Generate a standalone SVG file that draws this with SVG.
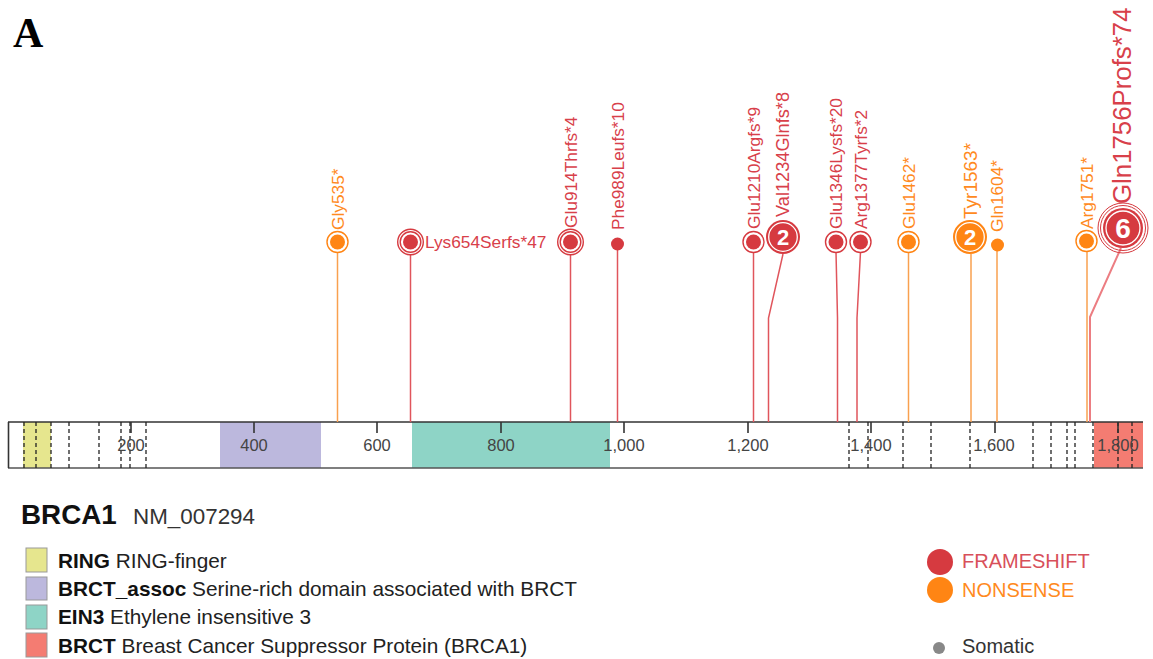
<svg xmlns="http://www.w3.org/2000/svg" width="1153" height="659" viewBox="0 0 1153 659">
<style>
.lbl{font-family:"Liberation Sans",Arial,sans-serif;font-size:17.3px}
.fs{fill:#d8404a}
.ns{fill:#ff8a1e}
.tick{font-family:"Liberation Sans",Arial,sans-serif;font-size:16.5px;fill:#444;text-anchor:middle}
.dash{stroke:#222;stroke-width:1.3;stroke-dasharray:4,3}
.tk{stroke:#333;stroke-width:1.6}
.rs{fill:none;stroke:#e0555c;stroke-width:1.5}
.os{fill:none;stroke:#f9a04f;stroke-width:1.5}
.rf{fill:#d63a40}
.of{fill:#ff8514}
.rr{fill:none;stroke:#d63a40;stroke-width:1.4}
.or{fill:none;stroke:#ff8514;stroke-width:1.4}
.wr{fill:none;stroke:#fff;stroke-width:1.3}
.num{font-family:"Liberation Sans",Arial,sans-serif;font-weight:bold;fill:#fff;text-anchor:middle}
.leg{font-family:"Liberation Sans",Arial,sans-serif;font-size:20.8px;fill:#222}
.sw{stroke:#999;stroke-width:1}
</style>
<rect width="1153" height="659" fill="#fff"/>
<text x="13" y="47" font-family="Liberation Serif,serif" font-weight="bold" font-size="42" fill="#000">A</text>

<g id="axis">
<rect x="23" y="422" width="28" height="46" fill="#e6e68e"/>
<rect x="220" y="422" width="101" height="46" fill="#bcb8dd"/>
<rect x="412" y="422" width="198" height="46" fill="#8ed4c6"/>
<rect x="1094" y="422" width="49" height="46" fill="#f47c72"/>
<line x1="8" y1="422" x2="1143" y2="422" stroke="#333" stroke-width="1.6"/>
<line x1="8" y1="468" x2="1143" y2="468" stroke="#555" stroke-width="1.6"/>
<line x1="8.5" y1="422" x2="8.5" y2="468" stroke="#333" stroke-width="1.6"/>
<g class="dash">
<line x1="24" y1="422" x2="24" y2="468"/><line x1="36" y1="422" x2="36" y2="468"/>
<line x1="51" y1="422" x2="51" y2="468"/><line x1="69" y1="422" x2="69" y2="468"/>
<line x1="99" y1="422" x2="99" y2="468"/><line x1="121" y1="422" x2="121" y2="468"/>
<line x1="130" y1="422" x2="130" y2="468"/><line x1="146" y1="422" x2="146" y2="468"/>
<line x1="849" y1="422" x2="849" y2="468"/><line x1="868" y1="422" x2="868" y2="468"/>
<line x1="903" y1="422" x2="903" y2="468"/><line x1="931" y1="422" x2="931" y2="468"/>
<line x1="970" y1="422" x2="970" y2="468"/><line x1="1033" y1="422" x2="1033" y2="468"/>
<line x1="1051" y1="422" x2="1051" y2="468"/><line x1="1067" y1="422" x2="1067" y2="468"/>
<line x1="1075" y1="422" x2="1075" y2="468"/><line x1="1093" y1="422" x2="1093" y2="468"/>
<line x1="1118" y1="422" x2="1118" y2="468"/><line x1="1132" y1="422" x2="1132" y2="468"/>
</g>
<g class="tk">
<line x1="131" y1="422" x2="131" y2="433"/><line x1="254" y1="422" x2="254" y2="433"/>
<line x1="377" y1="422" x2="377" y2="433"/><line x1="501" y1="422" x2="501" y2="433"/>
<line x1="624" y1="422" x2="624" y2="433"/><line x1="748" y1="422" x2="748" y2="433"/>
<line x1="871" y1="422" x2="871" y2="433"/><line x1="995" y1="422" x2="995" y2="433"/>
<line x1="1118" y1="422" x2="1118" y2="433"/>
</g>
<text class="tick" x="131" y="451">200</text>
<text class="tick" x="254" y="451">400</text>
<text class="tick" x="377" y="451">600</text>
<text class="tick" x="501" y="451">800</text>
<text class="tick" x="624" y="451">1,000</text>
<text class="tick" x="748" y="451">1,200</text>
<text class="tick" x="871" y="451">1,400</text>
<text class="tick" x="994" y="451">1,600</text>
<text class="tick" x="1118" y="451">1,800</text>
</g>

<g id="connectors">
<polyline class="os" points="337.5,252 337.5,422"/>
<polyline class="rs" points="410.5,255 410.5,422"/>
<polyline class="rs" points="570.5,255 570.5,422"/>
<polyline class="rs" points="617.5,250 617.5,422"/>
<polyline class="rs" points="753.5,252 753.5,422"/>
<polyline class="rs" points="783,254 768.5,318 768.5,422"/>
<polyline class="rs" points="836,252 837.5,318 837.5,422"/>
<polyline class="rs" points="860.5,252 857,318 857,422"/>
<polyline class="os" points="908.5,252 908.5,422"/>
<polyline class="os" points="971,254 971,422"/>
<polyline class="os" points="997,251 997,422"/>
<polyline class="os" points="1087,251 1087,422"/>
<polyline class="rs" points="1121,248 1090,317 1090,422" style="stroke:#ec7d82;stroke-width:2"/>
</g>

<g id="m-gly535">
<circle class="of" cx="337.5" cy="242" r="7.5"/><circle class="or" cx="337.5" cy="242" r="10.5"/>
<text class="lbl ns" transform="translate(344,230) rotate(-90)">Gly535*</text>
</g>
<g id="m-lys654">
<circle class="rf" cx="410.5" cy="242" r="7.5"/><circle class="rr" cx="410.5" cy="242" r="10.3"/><circle class="rr" cx="410.5" cy="242" r="12.8"/>
<text class="lbl fs" x="425" y="248">Lys654Serfs*47</text>
</g>
<g id="m-glu914">
<circle class="rf" cx="570.5" cy="242" r="7.5"/><circle class="rr" cx="570.5" cy="242" r="10.3"/><circle class="rr" cx="570.5" cy="242" r="12.8"/>
<text class="lbl fs" transform="translate(577,228) rotate(-90)">Glu914Thrfs*4</text>
</g>
<g id="m-phe989">
<circle class="rf" cx="617.5" cy="244" r="6.5"/>
<text class="lbl fs" transform="translate(624,230) rotate(-90)">Phe989Leufs*10</text>
</g>
<g id="m-glu1210">
<circle class="rf" cx="753.5" cy="242" r="7.5"/><circle class="rr" cx="753.5" cy="242" r="10.5"/>
<text class="lbl fs" transform="translate(760,229) rotate(-90)">Glu1210Argfs*9</text>
</g>
<g id="m-val1234">
<circle class="rf" cx="783" cy="237" r="17"/><circle class="wr" cx="783" cy="237" r="14.3"/>
<text class="num" x="783" y="245" font-size="22">2</text>
<text class="lbl fs" transform="translate(789,217) rotate(-90)" style="font-size:18.2px">Val1234Glnfs*8</text>
</g>
<g id="m-glu1346">
<circle class="rf" cx="836" cy="242" r="7.5"/><circle class="rr" cx="836" cy="242" r="10.5"/>
<text class="lbl fs" transform="translate(842,229) rotate(-90)">Glu1346Lysfs*20</text>
</g>
<g id="m-arg1377">
<circle class="rf" cx="860.5" cy="242" r="7.5"/><circle class="rr" cx="860.5" cy="242" r="10.5"/>
<text class="lbl fs" transform="translate(867,229) rotate(-90)">Arg1377Tyrfs*2</text>
</g>
<g id="m-glu1462">
<circle class="of" cx="908.5" cy="242" r="7.5"/><circle class="or" cx="908.5" cy="242" r="10.5"/>
<text class="lbl ns" transform="translate(915,229) rotate(-90)">Glu1462*</text>
</g>
<g id="m-tyr1563">
<circle class="of" cx="970" cy="237" r="17"/><circle class="wr" cx="970" cy="237" r="14.3"/>
<text class="num" x="970" y="245" font-size="22">2</text>
<text class="lbl ns" transform="translate(977,219) rotate(-90)" style="font-size:19px">Tyr1563*</text>
</g>
<g id="m-gln1604">
<circle class="of" cx="997.5" cy="245" r="6.5"/>
<text class="lbl ns" transform="translate(1003,232) rotate(-90)">Gln1604*</text>
</g>
<g id="m-arg1751">
<circle class="of" cx="1086.5" cy="241" r="7.5"/><circle class="or" cx="1086.5" cy="241" r="10.5"/>
<text class="lbl ns" transform="translate(1093,229) rotate(-90)">Arg1751*</text>
</g>
<g id="m-gln1756">
<circle class="rr" cx="1123" cy="228" r="25" style="stroke-width:1"/><circle class="rr" cx="1123" cy="228" r="22.5" style="stroke-width:1"/>
<circle class="rf" cx="1123" cy="228" r="20"/><circle class="wr" cx="1123" cy="228" r="17"/>
<text class="num" x="1123" y="238" font-size="28">6</text>
<text class="lbl fs" transform="translate(1131,204) rotate(-90)" style="font-size:25.8px">Gln1756Profs*74</text>
</g>

<g id="legend-gene">
<text x="21" y="524" font-family="Liberation Sans,Arial,sans-serif" font-weight="bold" font-size="27.8" fill="#111">BRCA1</text>
<text x="133" y="524" font-family="Liberation Sans,Arial,sans-serif" font-size="22.4" fill="#333">NM_007294</text>
</g>
<g id="legend-domains">
<rect class="sw" x="26" y="548" width="21" height="24" fill="#e6e68e"/>
<rect class="sw" x="26" y="577" width="21" height="23" fill="#bcb8dd"/>
<rect class="sw" x="26" y="605" width="21" height="24" fill="#8ed4c6"/>
<rect class="sw" x="26" y="633" width="21" height="24" fill="#f47c72"/>
<text class="leg" x="58" y="568"><tspan font-weight="bold" fill="#111">RING</tspan> RING-finger</text>
<text class="leg" x="58" y="596"><tspan font-weight="bold" fill="#111">BRCT_assoc</tspan>  Serine-rich domain associated with BRCT</text>
<text class="leg" x="58" y="624"><tspan font-weight="bold" fill="#111">EIN3</tspan> Ethylene insensitive 3</text>
<text class="leg" x="58" y="653"><tspan font-weight="bold" fill="#111">BRCT</tspan> Breast Cancer Suppressor Protein (BRCA1)</text>
</g>
<g id="legend-types">
<circle cx="940" cy="562" r="13" fill="#d63a40"/>
<text x="962" y="568" font-family="Liberation Sans,Arial,sans-serif" font-size="20" fill="#d8505a">FRAMESHIFT</text>
<circle cx="940" cy="590" r="13" fill="#ff8514"/>
<text x="962" y="597" font-family="Liberation Sans,Arial,sans-serif" font-size="20" fill="#ff8a1e">NONSENSE</text>
<circle cx="939" cy="648" r="6" fill="#888"/>
<text x="962" y="653" font-family="Liberation Sans,Arial,sans-serif" font-size="20" fill="#333">Somatic</text>
</g>
</svg>
